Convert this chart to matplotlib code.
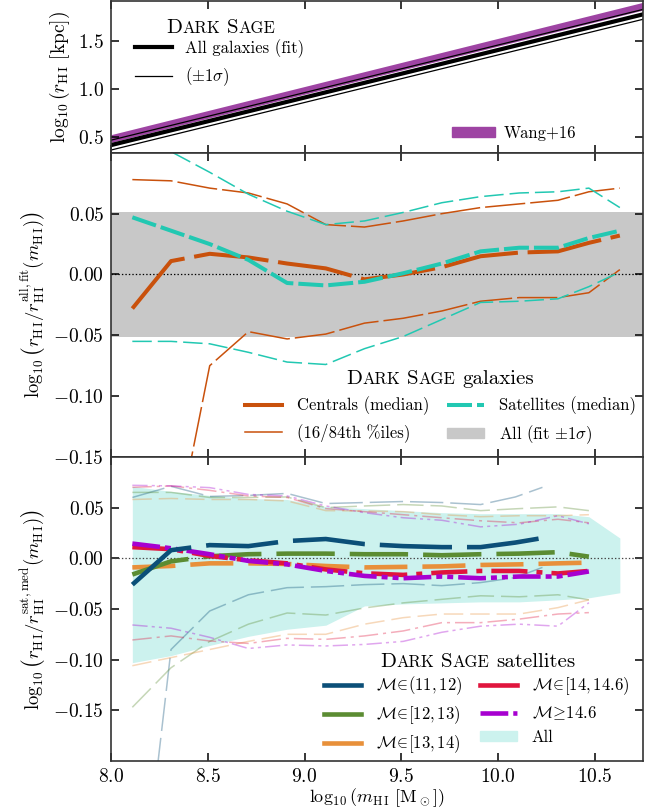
import numpy as np
import matplotlib
matplotlib.use('Agg')
import matplotlib.pyplot as plt
from matplotlib.lines import Line2D
from matplotlib.patches import Patch
from matplotlib.transforms import offset_copy

plt.rcParams['font.family'] = 'cmr10'
plt.rcParams['mathtext.fontset'] = 'cm'
plt.rcParams['axes.formatter.use_mathtext'] = True
plt.rcParams['lines.scale_dashes'] = False
plt.rcParams['axes.unicode_minus'] = True

# ---- top panel: size-mass relation ----
fit_slope = 0.491
fit_at8 = 0.42
sigma_all = 0.051
wang_slope = 0.497
wang_at8 = 0.488
wang_half = 0.04

# ---- middle panel: centrals vs satellites (residuals from fit) ----
xbins = [8.11, 8.31, 8.51, 8.71, 8.91, 9.11, 9.31, 9.51, 9.71, 9.91, 10.11, 10.31, 10.47, 10.63]
cen_med = [-0.028, 0.011, 0.017, 0.014, 0.009, 0.005, -0.004, 0.000, 0.006, 0.015, 0.018, 0.019, 0.026, 0.032]
cen_p84 = [0.078, 0.077, 0.071, 0.067, 0.058, 0.041, 0.039, 0.044, 0.050, 0.055, 0.058, 0.061, 0.068, 0.071]
cen_p16 = [-0.32, -0.235, -0.075, -0.047, -0.053, -0.049, -0.040, -0.036, -0.030, -0.022, -0.019, -0.019, -0.015, 0.004]
sat_med = [0.047, 0.036, 0.025, 0.012, -0.007, -0.009, -0.006, 0.001, 0.009, 0.019, 0.022, 0.022, 0.030, 0.036]
sat_p84 = [0.125, 0.101, 0.084, 0.066, 0.052, 0.041, 0.044, 0.051, 0.059, 0.064, 0.067, 0.068, 0.071, 0.055]
sat_p16 = [-0.055, -0.055, -0.057, -0.064, -0.072, -0.074, -0.061, -0.051, -0.037, -0.023, -0.022, -0.020, -0.010, 0.002]

# ---- bottom panel: satellites split by host halo mass ----
x_grp = [8.11, 8.31, 8.51, 8.71, 8.91, 9.11, 9.31, 9.51, 9.71, 9.91, 10.11, 10.31, 10.47]
x_blue = [8.11, 8.31, 8.51, 8.71, 8.91, 9.11, 9.31, 9.51, 9.71, 9.91, 10.09, 10.23]

m1_med = [-0.026, 0.008, 0.013, 0.012, 0.017, 0.019, 0.014, 0.012, 0.011, 0.011, 0.0155, 0.020]
m1_p84 = [0.060, 0.071, 0.061, 0.062, 0.064, 0.054, 0.055, 0.056, 0.055, 0.053, 0.0605, 0.070]
m1_p16 = [-0.42, -0.09, -0.052, -0.036, -0.029, -0.028, -0.026, -0.025, -0.027, -0.024, -0.019, -0.009]

m2_med = [-0.016, -0.003, 0.002, 0.004, 0.0046, 0.0046, 0.004, 0.004, 0.003, 0.004, 0.0046, 0.006, 0.0016]
m2_p84 = [0.065, 0.065, 0.060, 0.060, 0.0605, 0.050, 0.0516, 0.053, 0.0516, 0.047, 0.049, 0.0507, 0.047]
m2_p16 = [-0.147, -0.108, -0.082, -0.065, -0.054, -0.056, -0.049, -0.044, -0.0405, -0.037, -0.038, -0.036, -0.041]

m3_med = [-0.009, -0.0076, -0.005, -0.005, -0.0056, -0.0076, -0.009, -0.0085, -0.008, -0.0066, -0.006, -0.005, -0.0043]
m3_p84 = [0.058, 0.059, 0.058, 0.058, 0.0566, 0.047, 0.0467, 0.046, 0.043, 0.041, 0.042, 0.042, 0.043]
m3_p16 = [-0.106, -0.098, -0.090, -0.082, -0.075, -0.075, -0.065, -0.0586, -0.055, -0.055, -0.055, -0.0487, -0.041]

m4_med = [0.011, 0.009, 0.0023, -0.002, -0.005, -0.011, -0.0148, -0.0164, -0.014, -0.0125, -0.0125, -0.015, -0.0125]
m4_p84 = [0.070, 0.0714, 0.067, 0.0615, 0.060, 0.049, 0.046, 0.043, 0.040, 0.037, 0.035, 0.0385, 0.035]
m4_p16 = [-0.0806, -0.0766, -0.0816, -0.084, -0.079, -0.080, -0.0766, -0.0717, -0.0635, -0.0635, -0.060, -0.055, -0.0536]

m5_med = [0.0145, 0.0099, 0.004, -0.0026, -0.006, -0.0125, -0.0174, -0.0197, -0.018, -0.0197, -0.018, -0.018, -0.013]
m5_p84 = [0.072, 0.0714, 0.0697, 0.063, 0.0615, 0.0516, 0.045, 0.040, 0.0375, 0.031, 0.0336, 0.042, 0.034]
m5_p16 = [-0.0658, -0.069, -0.078, -0.089, -0.0855, -0.0865, -0.085, -0.082, -0.073, -0.067, -0.065, -0.067, -0.0438]

all_hi = [0.071, 0.066, 0.062, 0.059, 0.058, 0.051, 0.049, 0.047, 0.045, 0.044, 0.044, 0.044, 0.041, 0.020]
all_lo = [-0.103, -0.096, -0.086, -0.077, -0.070, -0.066, -0.047, -0.045, -0.044, -0.043, -0.043, -0.041, -0.039, -0.034]

grp_labels = [r'$\mathcal{M}\!\in\!(11,12)$', r'$\mathcal{M}\!\in\![12,13)$',
              r'$\mathcal{M}\!\in\![13,14)$', r'$\mathcal{M}\!\in\![14,14.6)$',
              r'$\mathcal{M}\!\geq\!14.6$']
grp_colors = ['#0b4f78', '#5b8c32', '#e8903a', '#e0153d', '#a700d0']

c_cen = '#c9510c'
c_sat = '#22c8b2'
c_wang = '#9e44a3'

xlim = (8.0, 10.75)
FS_TICK = 14
FS_LEG = 12
FS_TITLE = 15
FS_LAB = 13.5


def smallcaps_title(ax, x, y, rest, size):
    """Write 'DARK SAGE <rest>' in small caps, centred at x with baseline y."""
    fig = ax.figure
    r = fig.canvas.get_renderer()
    sp = 0.33 * size * fig.dpi / 72.
    parts = [('D', 1.0), ('ARK', 0.8), (None, 0), ('S', 1.0), ('AGE', 0.8)]
    if rest:
        parts += [(None, 0), (rest, 1.0)]
    items = []
    total = 0.
    for s, k in parts:
        if s is None:
            items.append((None, sp))
            total += sp
            continue
        t = ax.text(x, y, s, fontsize=size * k, transform=ax.transAxes,
                    ha='left', va='baseline')
        w = t.get_window_extent(r).width
        items.append((t, w))
        total += w
    pos = -total / 2.
    for t, w in items:
        if t is not None:
            t.set_transform(offset_copy(ax.transAxes, fig, x=pos, y=0, units='dots'))
        pos += w


fig, (ax1, ax2, ax3) = plt.subplots(3, 1, figsize=(6.65, 8.10), dpi=100, sharex=True,
                                    gridspec_kw={'height_ratios': [1, 2, 2]})
fig.subplots_adjust(left=0.167, right=0.967, top=0.999, bottom=0.0605, hspace=0)

for ax in (ax1, ax2, ax3):
    ax.tick_params(direction='in', top=True, right=True, length=6, width=1.1,
                   labelsize=FS_TICK, pad=5)
    for s in ax.spines.values():
        s.set_linewidth(1.2)
        s.set_color('#333333')
    ax.set_xlim(*xlim)

# top panel
xx = np.array(xlim)
fit = fit_at8 + fit_slope * (xx - 8.0)
wang = wang_at8 + wang_slope * (xx - 8.0)
ax1.fill_between(xx, wang - wang_half, wang + wang_half, color=c_wang, lw=0, label='Wang+16')
l_fit, = ax1.plot(xx, fit, color='k', lw=3.0, label='All galaxies (fit)')
l_sig, = ax1.plot(xx, fit + sigma_all, color='k', lw=0.9, label=r'($\pm1\sigma$)')
ax1.plot(xx, fit - sigma_all, color='k', lw=0.9)
ax1.set_ylim(0.34, 1.91)
ax1.set_yticks([0.5, 1.0, 1.5])
ax1.set_ylabel(r'$\log_{10}(r_{\rm H\,I}\ [{\rm kpc}])$', fontsize=14)
leg1 = ax1.legend(handles=[l_fit, l_sig], loc='center', bbox_to_anchor=(0.204, 0.585),
                  frameon=False, fontsize=FS_LEG, handlelength=2.2, handletextpad=0.8,
                  labelspacing=0.45, borderpad=0, borderaxespad=0)
ax1.add_artist(leg1)
ax1.legend(handles=[Patch(color=c_wang, label='Wang+16')], loc='center',
           bbox_to_anchor=(0.758, 0.131), frameon=False, fontsize=FS_LEG,
           handlelength=2.6, handleheight=0.55, handletextpad=0.5, borderpad=0, borderaxespad=0)
smallcaps_title(ax1, 0.207, 0.79, '', FS_TITLE)

# middle panel
ax2.axhspan(-sigma_all, sigma_all, color='#c8c8c8', lw=0, zorder=0)
ax2.axhline(0, color='k', ls=(0, (1, 1.5)), lw=0.9, zorder=1)
ax2.plot(xbins, cen_p84, color=c_cen, lw=1.1, dashes=(29, 3.6))
ax2.plot(xbins, cen_p16, color=c_cen, lw=1.1, dashes=(29, 3.6))
ax2.plot(xbins, cen_med, color=c_cen, lw=2.9, dashes=(54, 7))
ax2.plot(xbins, sat_p84, color=c_sat, lw=1.1, dashes=(14, 4.3))
ax2.plot(xbins, sat_p16, color=c_sat, lw=1.1, dashes=(14, 4.3))
ax2.plot(xbins, sat_med, color=c_sat, lw=2.9, dashes=(18, 3.6))
ax2.set_ylim(-0.15, 0.10)
ax2.set_yticks([-0.15, -0.10, -0.05, 0.0, 0.05])
ax2.set_ylabel(r'$\log_{10}\left(r_{\rm H\,I}/r_{\rm H\,I}^{\rm all,fit}(m_{\rm H\,I})\right)$',
               fontsize=FS_LAB)
h2 = [Line2D([], [], color=c_cen, lw=2.9),
      Line2D([], [], color=c_cen, lw=1.1),
      Line2D([], [], color=c_sat, lw=2.9, dashes=(18, 3.6)),
      Patch(color='#c8c8c8')]
lab2 = ['Centrals (median)', '(16/84th %iles)', 'Satellites (median)', r'All (fit $\pm1\sigma$)']
ax2.legend(h2, lab2, ncol=2, loc='center', bbox_to_anchor=(0.619, 0.118), frameon=False,
           fontsize=FS_LEG, handlelength=2.2, handleheight=0.55, handletextpad=0.9,
           columnspacing=1.1, labelspacing=0.5, borderpad=0, borderaxespad=0)
smallcaps_title(ax2, 0.619, 0.239, 'galaxies', FS_TITLE)

# bottom panel
med_dashes = [(52, 10.8), (42, 10.8), (31, 10.8), (26, 6.5, 4.3, 6.5),
              (20, 3.6, 4.3, 3.6, 4.3, 3.6)]
pct_dashes = [(24, 5), (19, 5), (14, 5), (14, 3.6, 2.2, 3.6), (11, 3, 2.2, 3, 2.2, 3)]
xs = [x_blue, x_grp, x_grp, x_grp, x_grp]
meds = [m1_med, m2_med, m3_med, m4_med, m5_med]
p84s = [m1_p84, m2_p84, m3_p84, m4_p84, m5_p84]
p16s = [m1_p16, m2_p16, m3_p16, m4_p16, m5_p16]
zmed = [6, 4, 3, 4.5, 5]

ax3.fill_between(xbins, all_lo, all_hi, color='#ccf2ee', lw=0, zorder=0)
ax3.axhline(0, color='#444444', ls=(0, (1, 1.5)), lw=0.9, zorder=2)
handles3 = []
for i in range(5):
    c = grp_colors[i]
    ax3.plot(xs[i], p84s[i], color=c, lw=1.1, alpha=0.35, dashes=pct_dashes[i], zorder=1)
    ax3.plot(xs[i], p16s[i], color=c, lw=1.1, alpha=0.35, dashes=pct_dashes[i], zorder=1)
    ax3.plot(xs[i], meds[i], color=c, lw=3.3, dashes=med_dashes[i], zorder=zmed[i])
    if i < 4:
        handles3.append(Line2D([], [], color=c, lw=3.3))
    else:
        handles3.append(Line2D([], [], color=c, lw=3.3, dashes=(20, 3.6, 3, 3.6)))
handles3.append(Patch(color='#ccf2ee'))
labels3 = grp_labels + ['All']
ax3.set_ylim(-0.20, 0.10)
ax3.set_yticks([-0.15, -0.10, -0.05, 0.0, 0.05])
ax3.set_xticks([8.0, 8.5, 9.0, 9.5, 10.0, 10.5])
ax3.set_ylabel(r'$\log_{10}\left(r_{\rm H\,I}/r_{\rm H\,I}^{\rm sat,med}(m_{\rm H\,I})\right)$',
               fontsize=FS_LAB)
ax3.set_xlabel(r'$\log_{10}(m_{\rm H\,I}\ [{\rm M}_\odot])$', fontsize=13, labelpad=0)
ax3.legend(handles3, labels3, ncol=2, loc='center', bbox_to_anchor=(0.687, 0.152),
           frameon=False, fontsize=FS_LEG, handlelength=2.2, handleheight=0.55,
           handletextpad=0.9, columnspacing=1.1, labelspacing=0.45, borderpad=0,
           borderaxespad=0)
smallcaps_title(ax3, 0.69, 0.31, 'satellites', FS_TITLE)

fig.savefig('out.png', dpi=100)
